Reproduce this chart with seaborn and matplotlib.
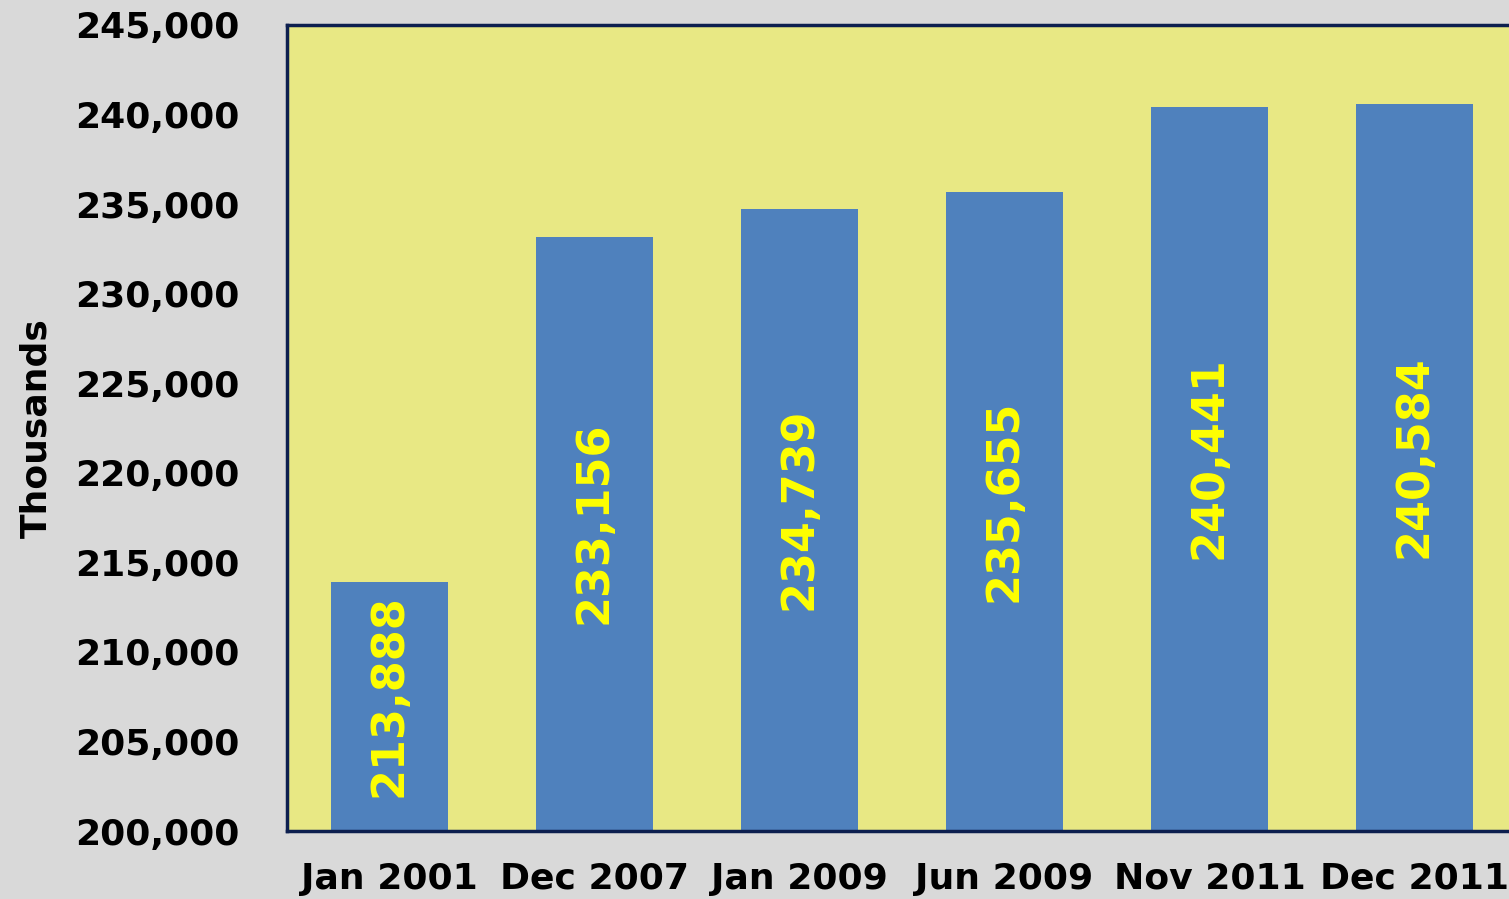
import matplotlib
matplotlib.use("Agg")
import matplotlib.pyplot as plt
import seaborn as sns
import pandas as pd

months = ["Jan 2001", "Dec 2007", "Jan 2009", "Jun 2009", "Nov 2011", "Dec 2011"]
employed = [213888, 233156, 234739, 235655, 240441, 240584]
y_ticks = [200000, 205000, 210000, 215000, 220000, 225000, 230000, 235000, 240000, 245000]

sns.set_theme(style="white")
plt.rcParams["font.family"] = ["DejaVu Sans"]
plt.rcParams["font.weight"] = "bold"
plt.rcParams["text.color"] = "black"
plt.rcParams["xtick.color"] = "black"
plt.rcParams["ytick.color"] = "black"
plt.rcParams["axes.labelcolor"] = "black"

df = pd.DataFrame({"month": months, "employed": employed})

fig = plt.figure(figsize=(15.09, 8.99), dpi=100, facecolor="#d9d9d9")
# plot area runs a little past the right edge, as in the original
ax = fig.add_axes([0.1902, 0.0756, 0.815, 0.8966])
ax.set_facecolor("#e8e884")

sns.barplot(data=df, x="month", y="employed", color="#4f81bd", saturation=1,
            width=0.57, linewidth=0, ax=ax, zorder=2)

ax.set_ylim(200000, 245000)
ax.set_xlim(-0.5, len(months) - 0.5)
ax.set_yticks(y_ticks)
ax.set_yticklabels([f"{v:,}" for v in y_ticks], fontsize=26, fontweight="bold")
ax.tick_params(axis="y", length=0, pad=34)
ax.tick_params(axis="x", length=0, pad=22, labelsize=26)
for lab in ax.get_xticklabels():
    lab.set_fontweight("bold")

ax.set_xlabel("")
ax.set_ylabel("Thousands", fontsize=26, fontweight="bold", labelpad=16)

for spine in ax.spines.values():
    spine.set_color("#0d1f4f")
    spine.set_linewidth(2.5)
    spine.set_visible(True)

labels = ax.bar_label(ax.containers[0], labels=[f"{v:,}" for v in employed],
                      label_type="center", rotation=90, color="#ffff00",
                      fontsize=32, fontweight="bold")
# sit a bit above the middle of each bar
for t in labels:
    t.xyann = (0, 8)

fig.savefig("out.png", dpi=100, facecolor=fig.get_facecolor())
